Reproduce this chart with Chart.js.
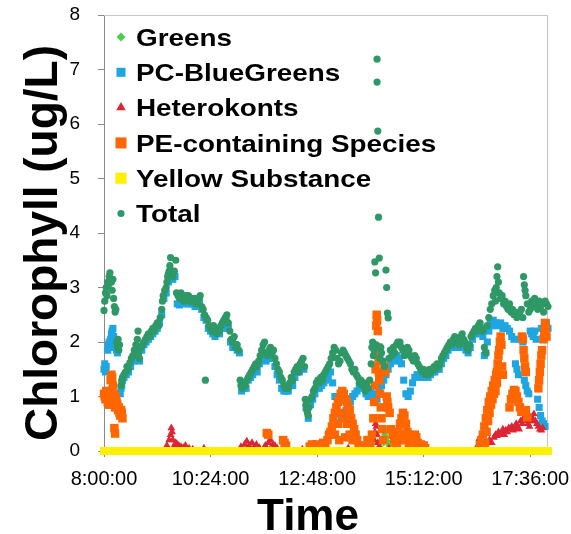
<!DOCTYPE html>
<html>
<head>
<meta charset="utf-8">
<script src="https://cdn.jsdelivr.net/npm/chart.js@4.4.0/dist/chart.umd.min.js"></script>
<style>
  html, body { margin: 0; padding: 0; background: #fff; }
  canvas { display: block; }
</style>
</head>
<body>
<canvas id="chloroChart" width="571" height="534"></canvas>
<script>
// Noms des séries (ordre de la légende)
const seriesNames = ["Greens", "PC-BlueGreens", "Heterokonts", "PE-containing Species", "Yellow Substance", "Total"];
const xTitle = "Time";
const yTitle = "Chlorophyll (ug/L)";

// Axe du temps en minutes après 8:00
const xTickValues = [0, 144, 288, 432, 576];
const xTickLabels = ["8:00:00", "10:24:00", "12:48:00", "15:12:00", "17:36:00"];

// Total
const totalT = [
  0, 1, 2, 3, 4, 5, 6, 7, 8, 9,
  10, 11, 12, 13, 14, 15, 16, 17, 18, 19,
  20, 21, 23, 24, 25, 27, 29, 31, 33, 35,
  37, 39, 41, 43, 45, 46, 47, 48, 50, 52,
  54, 56, 58, 60, 62, 64, 66, 68, 70, 72,
  74, 76, 78, 79, 80, 82, 84, 85, 86, 87,
  88, 89, 90, 91, 93, 95, 97, 98, 100, 102,
  104, 106, 108, 110, 112, 114, 116, 118, 120, 122,
  124, 126, 128, 130, 132, 134, 136, 137, 138, 140,
  142, 144, 146, 148, 150, 152, 154, 156, 158, 160,
  162, 164, 166, 168, 170, 172, 174, 176, 178, 180,
  182, 184, 185, 187, 189, 191, 193, 195, 197, 199,
  201, 203, 205, 207, 209, 211, 213, 215, 217, 219,
  221, 223, 225, 227, 229, 231, 233, 235, 237, 239,
  241, 243, 245, 247, 249, 251, 253, 255, 257, 259,
  261, 263, 265, 267, 269, 271, 272, 273, 274, 275,
  276, 277, 279, 281, 283, 285, 287, 289, 291, 293,
  295, 297, 299, 301, 303, 305, 307, 309, 311, 313,
  315, 317, 319, 321, 323, 325, 327, 329, 331, 333,
  335, 337, 339, 341, 343, 345, 347, 349, 351, 353,
  355, 357, 359, 361, 362, 363, 364, 365, 366, 367,
  368, 369, 369, 370, 371, 372, 373, 374, 375, 377,
  379, 381, 382, 383, 384, 385, 387, 389, 391, 393,
  395, 397, 400, 402, 404, 406, 408, 410, 412, 414,
  416, 418, 420, 422, 424, 426, 428, 430, 432, 434,
  436, 438, 440, 442, 444, 446, 448, 450, 452, 454,
  456, 458, 460, 462, 464, 466, 468, 470, 472, 474,
  476, 478, 480, 482, 484, 486, 488, 490, 492, 494,
  496, 498, 500, 502, 504, 506, 508, 510, 512, 514,
  516, 518, 520, 522, 524, 526, 528, 529, 530, 531,
  532, 533, 534, 536, 538, 540, 542, 544, 546, 548,
  550, 552, 554, 556, 558, 560, 562, 564, 566, 567,
  568, 569, 570, 572, 574, 576, 578, 580, 582, 584,
  586, 588, 590, 592, 594, 596, 598, 600
];
const totalV = [
  2.58, 2.75, 2.9, 3.0, 2.85, 3.1, 3.05, 3.2, 3.27, 3.15,
  3.1, 2.95, 3.15, 2.8, 2.65, 2.55, 2.6, 2.0, 1.9, 2.05,
  1.85, 1.95, 1.2, 1.3, 1.35, 1.4, 1.45, 1.55, 1.5, 1.62,
  1.7, 1.75, 1.85, 1.95, 2.05, 2.2, 1.8, 1.7, 1.9, 1.95,
  2.0, 2.05, 2.1, 2.15, 2.1, 2.2, 2.25, 2.2, 2.3, 2.35,
  2.3, 2.45, 2.6, 2.75, 2.85, 2.95, 3.0, 3.1, 3.2, 3.25,
  3.3, 3.4, 3.55, 3.3, 3.2, 3.3, 3.5, 2.9, 2.85, 2.8,
  2.9, 2.85, 2.75, 2.85, 2.8, 2.85, 2.75, 2.8, 2.75, 2.8,
  2.7, 2.75, 2.8, 2.85, 2.65, 2.6, 2.5, 1.3, 2.45, 2.4,
  2.3, 2.25, 2.2, 2.3, 2.2, 2.15, 2.25, 2.2, 2.3, 2.35,
  2.4, 2.45, 2.5, 2.35, 2.2, 2.05, 2.0, 2.1, 1.9, 1.95,
  1.85, 1.3, 1.2, 1.15, 1.25, 1.2, 1.3, 1.35, 1.4, 1.45,
  1.5, 1.55, 1.6, 1.55, 1.65, 1.75, 1.85, 1.95, 2.0, 1.8,
  1.75, 1.85, 1.9, 1.8, 1.85, 1.7, 1.6, 1.5, 1.45, 1.35,
  1.3, 1.2, 1.15, 1.2, 1.15, 1.25, 1.35, 1.3, 1.45, 1.5,
  1.55, 1.45, 1.6, 1.65, 1.7, 1.55, 0.95, 0.85, 0.75, 0.7,
  0.65, 0.8, 0.95, 1.0, 1.1, 1.15, 1.25, 1.3, 1.25, 1.35,
  1.3, 1.4, 1.45, 1.5, 1.55, 1.6, 1.7, 1.8, 1.9, 1.85,
  1.7, 1.6, 1.65, 1.8, 1.85, 1.8, 1.75, 1.7, 1.65, 1.6,
  1.5, 1.45, 1.5, 1.4, 1.35, 1.25, 1.3, 1.2, 1.25, 1.1,
  1.2, 1.15, 1.3, 1.6, 1.9, 2.0, 1.75, 1.85, 3.47, 3.27,
  1.95, 7.19, 6.77, 5.87, 4.29, 3.54, 1.7, 1.9, 1.8, 1.65,
  1.55, 3.32, 3.0, 2.53, 2.44, 1.7, 1.85, 1.75, 1.9, 1.8,
  1.95, 2.0, 2.0, 1.9, 1.85, 1.75, 1.8, 1.9, 1.85, 1.75,
  1.7, 1.65, 1.75, 1.7, 1.6, 1.55, 1.5, 1.45, 1.5, 1.4,
  1.45, 1.4, 1.5, 1.45, 1.5, 1.55, 1.5, 1.6, 1.55, 1.6,
  1.7, 1.75, 1.8, 1.85, 1.9, 1.95, 2.0, 1.95, 2.05, 2.1,
  2.05, 2.0, 1.95, 2.1, 2.15, 2.05, 2.0, 1.9, 1.85, 1.95,
  2.1, 2.15, 2.2, 2.25, 2.2, 2.3, 2.35, 2.25, 2.2, 1.9,
  1.8, 2.3, 2.45, 2.6, 2.7, 2.85, 2.95, 2.75, 3.0, 3.2,
  3.38, 3.1, 2.9, 2.8, 2.85, 2.7, 2.75, 2.65, 2.6, 2.7,
  2.55, 2.6, 2.5, 2.55, 2.45, 2.5, 2.55, 2.6, 2.45, 3.2,
  3.05, 2.95, 2.85, 2.7, 2.55, 2.6, 2.75, 2.65, 2.8, 2.7,
  2.6, 2.75, 2.65, 2.7, 2.55, 2.75, 2.7, 2.65
];

// PC-BlueGreens
const blueT = [
  0, 1, 2, 3, 5, 6, 7, 8, 9, 10,
  11, 12, 13, 14, 15, 17, 18, 22, 23, 24,
  25, 27, 30, 33, 36, 39, 42, 45, 48, 51,
  54, 57, 60, 63, 66, 69, 72, 75, 78, 81,
  84, 87, 90, 93, 96, 99, 102, 105, 108, 111,
  114, 117, 120, 123, 126, 129, 132, 135, 138, 141,
  144, 147, 150, 153, 156, 159, 162, 165, 168, 171,
  174, 177, 180, 183, 186, 189, 192, 195, 198, 201,
  204, 207, 210, 213, 216, 219, 222, 225, 228, 231,
  234, 237, 240, 243, 246, 249, 252, 255, 258, 261,
  264, 267, 270, 273, 276, 279, 282, 285, 288, 291,
  294, 297, 300, 303, 306, 309, 312, 315, 318, 321,
  324, 327, 330, 333, 336, 339, 342, 345, 348, 351,
  354, 357, 360, 363, 366, 369, 372, 375, 378, 381,
  384, 387, 390, 393, 396, 399, 402, 405, 408, 411,
  414, 417, 420, 423, 426, 429, 432, 435, 438, 441,
  444, 447, 450, 453, 456, 459, 462, 465, 468, 471,
  474, 477, 480, 483, 486, 489, 492, 495, 498, 501,
  504, 508, 510, 512, 514, 516, 518, 520, 522, 524,
  526, 528, 530, 533, 536, 539, 542, 545, 548, 551,
  554, 556, 558, 560, 562, 564, 566, 568, 570, 572,
  574, 576, 578, 580, 582, 584, 586, 588, 590, 591,
  592, 594, 595, 596, 598, 600
];
const blueV = [
  1.5, 1.6, 1.45, 1.55, 1.85, 1.95, 2.0, 1.9, 2.05, 2.15,
  2.2, 2.25, 2.1, 2.0, 1.9, 1.85, 1.8, 1.05, 1.15, 1.2,
  1.3, 1.35, 1.4, 1.45, 1.55, 1.65, 1.75, 1.9, 1.65, 1.85,
  1.95, 2.0, 2.05, 2.1, 2.15, 2.2, 2.25, 2.35, 2.5, 2.8,
  2.9, 3.1, 3.2, 3.15, 3.2, 2.7, 2.68, 2.75, 2.7, 2.75,
  2.7, 2.7, 2.7, 2.65, 2.7, 2.75, 2.6, 2.45, 2.4, 2.25,
  2.2, 2.15, 2.1, 2.2, 2.15, 2.25, 2.35, 2.4, 2.25, 2.0,
  1.9, 1.95, 1.85, 1.8, 1.1, 1.15, 1.15, 1.3, 1.35, 1.4,
  1.5, 1.45, 1.6, 1.7, 1.75, 1.65, 1.7, 1.75, 1.7, 1.55,
  1.4, 1.3, 1.15, 1.1, 1.1, 1.1, 1.2, 1.2, 1.35, 1.45,
  1.45, 1.55, 1.5, 0.8, 0.6, 0.85, 0.95, 1.05, 1.15, 1.15,
  1.2, 1.25, 1.3, 1.35, 1.45, 1.25, 1.0, 0.8, 0.7, 0.6,
  0.65, 0.75, 0.85, 0.9, 1.0, 1.05, 1.1, 1.2, 1.25, 1.15,
  1.05, 1.0, 1.1, 1.05, 1.0, 0.95, 1.1, 1.2, 1.3, 1.4,
  1.5, 1.6, 1.7, 1.65, 1.75, 1.7, 1.6, 1.3, 1.05, 1.0,
  1.1, 1.25, 1.35, 1.4, 1.4, 1.35, 1.4, 1.35, 1.35, 1.4,
  1.45, 1.45, 1.5, 1.5, 1.6, 1.7, 1.75, 1.85, 1.9, 1.9,
  2.0, 1.95, 1.9, 2.05, 1.95, 1.85, 1.8, 1.9, 2.05, 2.15,
  2.15, 2.3, 2.2, 2.1, 1.75, 1.8, 2.0, 2.2, 2.35, 2.3,
  2.4, 2.3, 2.35, 2.3, 2.35, 2.25, 2.3, 2.25, 2.2, 2.1,
  2.05, 1.6, 1.5, 1.4, 2.05, 2.1, 2.0, 1.3, 1.2, 1.1,
  1.05, 2.2, 2.15, 2.1, 2.2, 2.05, 0.95, 0.8, 0.65, 2.25,
  0.55, 0.5, 2.3, 0.45, 2.35, 2.25
];

// Heterokonts
const redT = [
  85, 88, 90, 91, 92, 93, 95, 97, 99, 101,
  104, 107, 110, 115, 120, 135, 185, 190, 193, 196,
  200, 203, 206, 210, 218, 222, 225, 228, 231, 234,
  268, 300, 330, 365, 366, 367, 368, 369, 370, 372,
  385, 505, 507, 509, 511, 513, 518, 521, 524, 527,
  529, 531, 533, 535, 537, 539, 541, 543, 545, 547,
  549, 551, 553, 555, 557, 559, 561, 563, 565, 567,
  569, 571, 573, 575, 577, 579, 581, 583, 585, 587,
  589, 591, 593
];
const redV = [
  0.1, 0.2, 0.3, 0.42, 0.35, 0.2, 0.1, 0.15, 0.12, 0.1,
  0.08, 0.06, 0.1, 0.05, 0.03, 0.05, 0.08, 0.12, 0.18, 0.1,
  0.15, 0.08, 0.12, 0.06, 0.1, 0.15, 0.2, 0.12, 0.1, 0.05,
  0.03, 0.03, 0.05, 0.2, 0.35, 0.5, 0.45, 0.3, 0.15, 0.08,
  0.05, 0.1, 0.22, 0.15, 0.08, 0.05, 0.15, 0.2, 0.15, 0.25,
  0.3, 0.28, 0.35, 0.3, 0.33, 0.4, 0.3, 0.38, 0.35, 0.42,
  0.4, 0.45, 0.38, 0.42, 0.5, 0.45, 0.4, 0.55, 0.5, 0.6,
  0.68, 0.55, 0.5, 0.45, 0.55, 0.6, 0.68, 0.55, 0.5, 0.45,
  0.4, 0.38, 0.42
];

// PE-containing Species
const orangeT = [
  0, 1, 2, 3, 4, 5, 6, 7, 8, 9,
  10, 11, 12, 13, 14, 14, 15, 15, 16, 17,
  18, 19, 20, 21, 22, 23, 24, 25, 220, 222,
  242, 244, 246, 278, 281, 284, 287, 290, 293, 296,
  299, 302, 304, 306, 308, 310, 312, 314, 316, 318,
  320, 322, 324, 326, 328, 330, 332, 334, 336, 338,
  340, 342, 344, 346, 352, 356, 360, 362, 364, 365,
  366, 367, 367.5, 368, 368.5, 369, 370, 370.5, 371, 371.5,
  372, 373, 374, 375, 376, 377, 379, 380, 382, 383,
  384, 386, 388, 390, 392, 394, 396, 398, 400, 402,
  404, 406, 408, 410, 412, 414, 416, 418, 420, 422,
  424, 426, 428, 430, 432, 434, 508, 510, 512, 514,
  515, 516, 517, 518, 519, 520, 521, 522, 523, 524,
  525, 526, 527, 528, 529, 530, 531, 531, 532, 533,
  534, 535, 536, 537, 538, 539, 548, 550, 552, 554,
  556, 558, 560, 562, 564, 565, 566, 567, 568, 569,
  570, 570, 572, 587, 588, 589, 590, 591, 592, 594,
  595, 596, 597, 598, 312, 316, 318, 320, 324, 326,
  328, 332, 336, 396, 400, 404, 408, 412
];
const orangeV = [
  1.05, 1.0, 0.95, 1.1, 1.0, 0.9, 1.05, 0.85, 1.1, 1.3,
  1.4, 1.35, 1.2, 1.05, 0.95, 0.42, 0.8, 0.32, 1.0, 0.9,
  0.85, 0.75, 0.8, 0.7, 0.65, 0.75, 0.7, 0.6, 0.33, 0.3,
  0.2, 0.15, 0.1, 0.08, 0.12, 0.1, 0.12, 0.08, 0.1, 0.15,
  0.12, 0.2, 0.3, 0.35, 0.45, 0.6, 0.7, 0.8, 0.9, 0.95,
  1.05, 1.1, 1.05, 0.95, 0.9, 0.8, 0.75, 0.6, 0.5, 0.4,
  0.3, 0.2, 0.1, 0.05, 0.1, 0.2, 0.15, 0.3, 0.6, 0.9,
  1.2, 1.5, 1.8, 2.3, 2.5, 2.4, 2.2, 1.9, 1.65, 1.45,
  1.3, 1.05, 0.8, 0.6, 0.4, 0.2, 1.55, 1.45, 1.0, 0.9,
  0.8, 0.7, 0.4, 0.3, 0.2, 0.15, 0.25, 0.35, 0.5, 0.6,
  0.7, 0.65, 0.5, 0.35, 0.25, 0.2, 0.15, 0.2, 0.3, 0.25,
  0.15, 0.1, 0.12, 0.08, 0.1, 0.05, 0.1, 0.2, 0.3, 0.45,
  0.15, 0.6, 0.35, 0.75, 0.55, 0.9, 0.7, 1.0, 0.85, 1.1,
  0.95, 1.2, 1.05, 1.3, 1.1, 1.4, 1.25, 1.45, 1.6, 1.75,
  1.85, 2.0, 2.1, 1.95, 1.55, 1.4, 0.8, 0.95, 1.05, 1.12,
  1.1, 1.0, 0.9, 0.8, 0.72, 2.1, 2.05, 1.85, 1.7, 1.55,
  1.45, 0.75, 0.62, 1.15, 1.3, 1.45, 1.6, 1.75, 1.85, 2.05,
  2.2, 2.35, 2.25, 2.1, 0.3, 0.5, 0.2, 0.7, 0.6, 0.25,
  0.5, 0.3, 0.2, 0.1, 0.2, 0.3, 0.2, 0.1
];

// Greens
const greensT = [0, 60, 120, 180, 240, 300, 360, 370, 375, 378, 379, 380, 381, 382, 383, 385, 420, 480, 540, 600];
const greensV = [0, 0, 0, 0, 0, 0, 0, 0.05, 0.05, 0.15, 0.3, 0.42, 0.35, 0.25, 0.18, 0.1, 0, 0, 0, 0];

// Yellow Substance
const yellowT = [
  0, 10, 20, 30, 40, 50, 60, 70, 80, 90,
  100, 110, 120, 130, 140, 150, 160, 170, 180, 190,
  200, 210, 220, 230, 240, 250, 260, 270, 280, 290,
  300, 310, 320, 330, 340, 350, 360, 370, 380, 390,
  400, 410, 420, 430, 440, 450, 460, 470, 480, 490,
  500, 510, 520, 530, 540, 550, 560, 570, 580, 590,
  600
];
const yellowV = [
  0, 0, 0, 0, 0, 0, 0, 0, 0, 0,
  0, 0, 0, 0, 0, 0, 0, 0, 0, 0,
  0, 0, 0, 0, 0, 0, 0, 0, 0, 0,
  0, 0, 0, 0, 0, 0, 0, 0, 0, 0,
  0, 0, 0, 0, 0, 0, 0, 0, 0, 0,
  0, 0, 0, 0, 0, 0, 0, 0, 0, 0,
  0
];

const FONT = '"Liberation Sans", Arial, Helvetica, sans-serif';

// Fonction pour assembler les points x/y d'une série
function toPoints(times, values) {
    return times.map((t, i) => ({ x: t, y: values[i] }));
}

function makeDataset(label, times, values, color, style, radius, order, extra) {
    return Object.assign({
        label: label,
        data: toPoints(times, values),
        backgroundColor: color,
        borderColor: color,
        pointStyle: style,
        pointRadius: radius,
        pointHoverRadius: radius,
        pointBorderWidth: 0,
        showLine: false,
        clip: false,
        order: order
    }, extra || {});
}

const datasets = [
    makeDataset(seriesNames[0], greensT, greensV, '#4ccf4c', 'rectRot', 3.5, 5),
    makeDataset(seriesNames[1], blueT, blueV, '#1ea6e2', 'rect', 5, 4),
    makeDataset(seriesNames[2], redT, redV, '#dc2634', 'triangle', 4.5, 3),
    makeDataset(seriesNames[3], orangeT, orangeV, '#ff6600', 'rect', 6, 2),
    makeDataset(seriesNames[4], yellowT, yellowV, '#fff000', 'rect', 5.7, 1, { showLine: true, borderWidth: 8 }),
    makeDataset(seriesNames[5], totalT, totalV, '#2e9866', 'circle', 3.6, 0)
];

// Rayons des marqueurs de la légende
const legendRadius = [4.5, 6.4, 5.5, 7.8, 7.8, 3.6];

// Cadre gris clair en haut et à droite
const framePlugin = {
    id: 'frame',
    beforeDatasetsDraw(chart) {
        const { ctx, chartArea: a } = chart;
        ctx.save();
        ctx.strokeStyle = '#c6c6c6';
        ctx.lineWidth = 1;
        ctx.beginPath();
        ctx.moveTo(a.left, a.top + 0.5);
        ctx.lineTo(a.right - 0.5, a.top + 0.5);
        ctx.lineTo(a.right - 0.5, a.bottom);
        ctx.stroke();
        ctx.restore();
    }
};

// Légende dessinée dans la zone du graphique
const legendPlugin = {
    id: 'insideLegend',
    afterDatasetsDraw(chart) {
        const ctx = chart.ctx;
        chart.data.datasets.forEach((ds, i) => {
            const cy = 37 + i * 35.3;
            ctx.save();
            ctx.fillStyle = ds.backgroundColor;
            Chart.helpers.drawPoint(ctx, { pointStyle: ds.pointStyle, radius: legendRadius[i], rotation: 0, borderWidth: 0 }, 121, cy);
            ctx.translate(136, cy + 8.6);
            ctx.scale(1.16, 1);
            ctx.fillStyle = '#000';
            ctx.font = 'bold 24px ' + FONT;
            ctx.textAlign = 'left';
            ctx.textBaseline = 'alphabetic';
            ctx.fillText(ds.label, 0, 0);
            ctx.restore();
        });
    }
};

// Titres des axes
const titlePlugin = {
    id: 'axisTitles',
    afterDraw(chart) {
        const ctx = chart.ctx;
        ctx.save();
        ctx.fillStyle = '#000';
        ctx.textAlign = 'center';
        ctx.textBaseline = 'alphabetic';
        ctx.font = 'bold 44px ' + FONT;
        ctx.fillText(xTitle, 308, 530);
        ctx.translate(57, 243);
        ctx.rotate(-Math.PI / 2);
        ctx.font = 'bold 46px ' + FONT;
        ctx.fillText(yTitle, 0, 0);
        ctx.restore();
    }
};

const ctx = document.getElementById('chloroChart').getContext('2d');
const chloroChart = new Chart(ctx, {
    type: 'scatter',
    data: { datasets: datasets },
    options: {
        responsive: false,
        animation: false,
        devicePixelRatio: 1,
        layout: { padding: { left: 0, right: 23, top: 15, bottom: 0 } },
        plugins: {
            legend: { display: false },
            tooltip: { enabled: false }
        },
        scales: {
            x: {
                type: 'linear',
                min: 0,
                max: 600,
                afterBuildTicks: (axis) => {
                    axis.ticks = xTickValues.map(v => ({ value: v }));
                },
                afterFit: (scale) => {
                    scale.height = 83;
                    scale.paddingLeft = 0;
                    scale.paddingRight = 0;
                },
                ticks: {
                    autoSkip: false,
                    maxRotation: 0,
                    padding: 10,
                    color: '#000',
                    font: { family: FONT, size: 20 },
                    callback: (value) => xTickLabels[xTickValues.indexOf(value)]
                },
                grid: { drawOnChartArea: false, drawTicks: true, tickLength: 6, color: '#8a8a8a' },
                border: { display: true, color: '#8a8a8a', width: 1 }
            },
            y: {
                min: 0,
                max: 8,
                afterFit: (scale) => {
                    scale.width = 104;
                    scale.paddingTop = 0;
                    scale.paddingBottom = 0;
                },
                ticks: {
                    stepSize: 1,
                    padding: 18,
                    color: '#000',
                    font: { family: FONT, size: 19 }
                },
                grid: { drawOnChartArea: false, drawTicks: true, tickLength: 6, color: '#8a8a8a' },
                border: { display: true, color: '#8a8a8a', width: 1 }
            }
        }
    },
    plugins: [framePlugin, legendPlugin, titlePlugin]
});
</script>
</body>
</html>
